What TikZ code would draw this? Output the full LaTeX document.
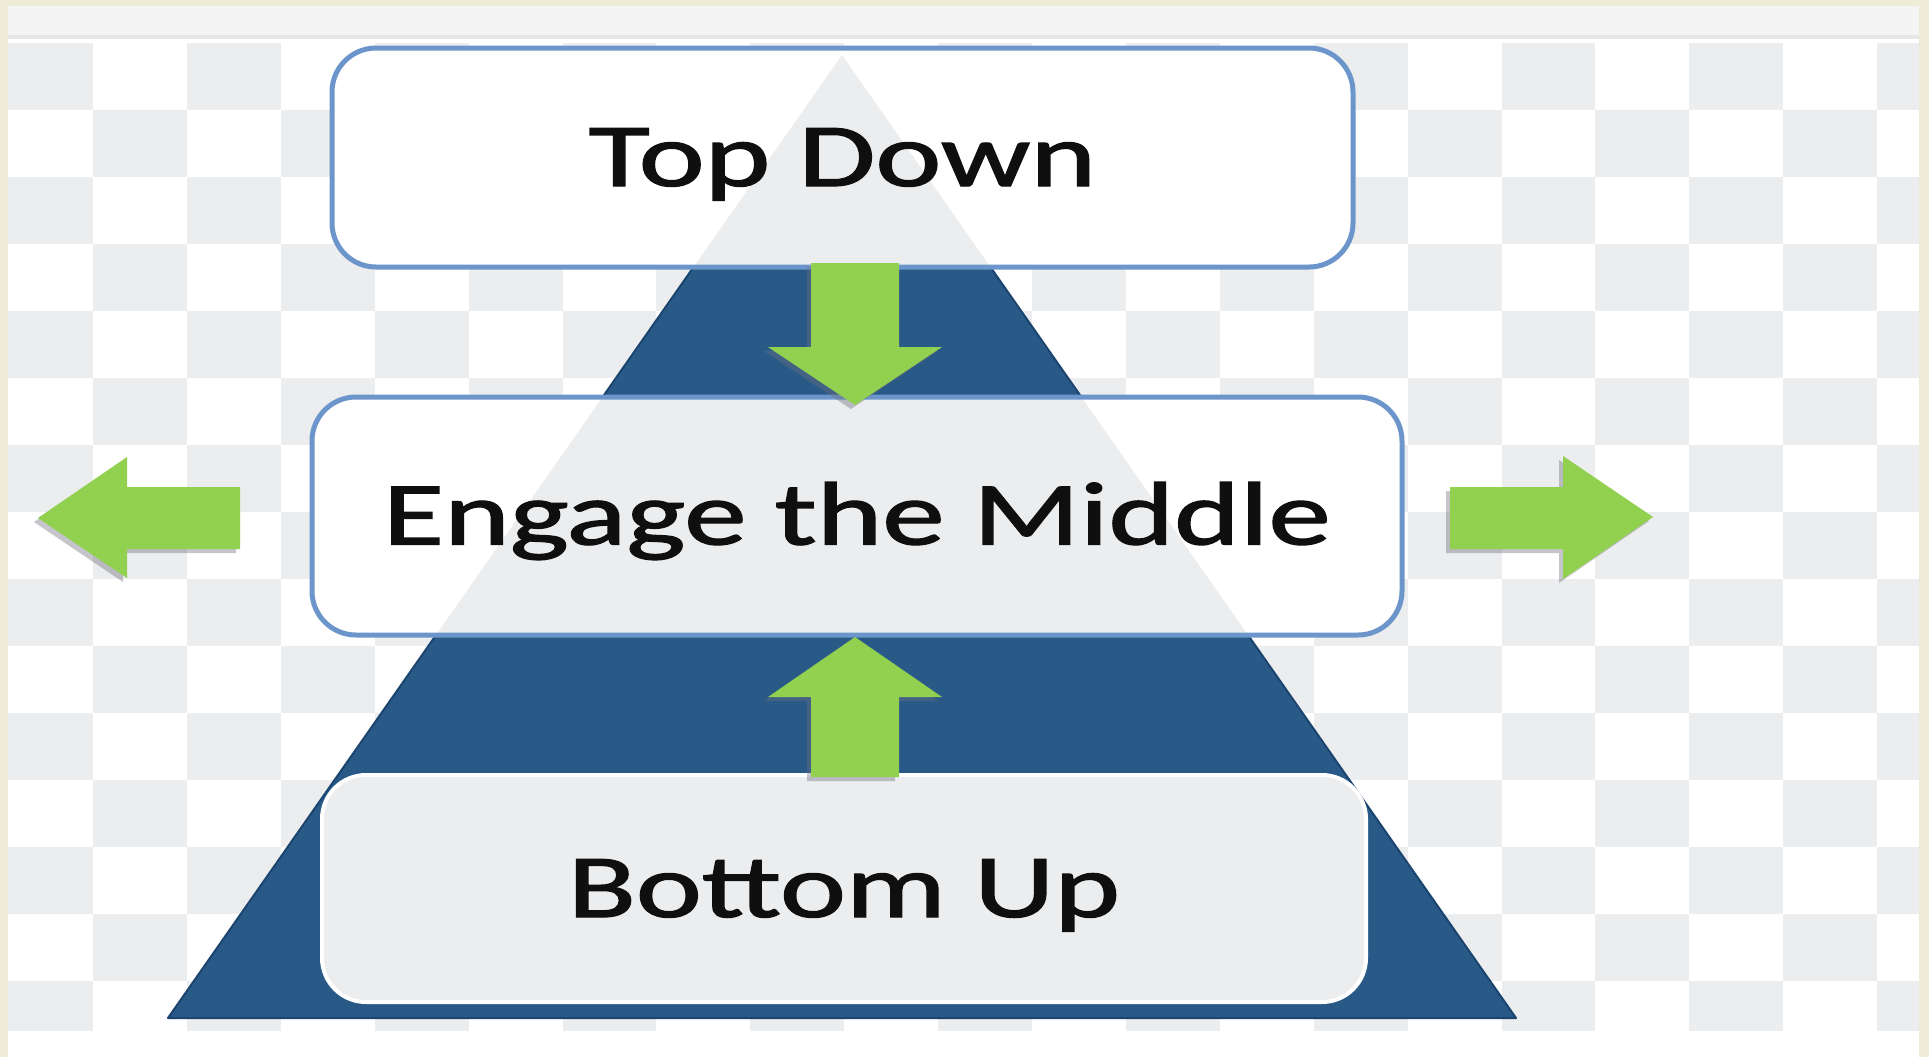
\documentclass[tikz,border=0pt]{standalone}
\usepackage{fontspec}
\setmainfont{Carlito}
\newfontfamily\labelfont{Carlito}[FakeBold=1.3]
\definecolor{cream}{RGB}{238,235,214}
\definecolor{topband}{RGB}{244,244,244}
\definecolor{bandline}{RGB}{230,230,230}
\definecolor{checkgray}{RGB}{236,237,238}
\definecolor{triblue}{RGB}{41,90,135}
\definecolor{tridark}{RGB}{28,68,112}
\definecolor{boxborder}{RGB}{108,150,203}
\definecolor{boxgray}{RGB}{236,237,239}
\definecolor{arrowgreen}{RGB}{146,208,80}
\definecolor{shadowgray}{RGB}{110,110,125}
\definecolor{textblack}{RGB}{15,15,15}
\begin{document}
\begin{tikzpicture}[x=0.5pt,y=-0.5pt,
  labelbox/.style={rounded corners=22pt, inner sep=0pt, line width=2.5pt,
    text=textblack, font=\labelfont\fontsize{45}{54}\selectfont,
    text height=28.5pt, text depth=0pt},
  greenarrow/.style={fill=arrowgreen},
  arrowshadow/.style={fill=shadowgray, opacity=0.4}]
\useasboundingbox (0,0) rectangle (1929,1057);
% background
\fill[white] (0,0) rectangle (1929,1057);
\fill[cream] (0,0) rectangle (1929,6);
\fill[cream] (0,0) rectangle (8,1057);
\fill[cream] (1919,0) rectangle (1929,1057);
\fill[topband] (8,6) rectangle (1919,35);
\fill[bandline] (8,35) rectangle (1919,39);
% checkerboard
\begin{scope}
\clip (8,43) rectangle (1919,1030);
\foreach \c in {0,...,20}{
  \foreach \r in {0,...,14}{
    \pgfmathtruncatemacro{\pp}{mod(\c+\r,2)}
    \ifnum\pp=0
      \fill[checkgray] ({93+93.9*(\c-1)},{43+67*\r}) rectangle ++(93.9,67);
    \fi
  }
}
\end{scope}
% pyramid
\coordinate (apex) at (842,55);
\coordinate (baseR) at (1516,1018);
\coordinate (baseL) at (168,1018);
\fill[triblue, draw=tridark, line width=1pt, line join=round] (apex) -- (baseR) -- (baseL) -- cycle;
% top box background
\fill[white, rounded corners=22pt] (332,48) rectangle (1353,267);
\begin{scope}
\clip[rounded corners=22pt] (332,48) rectangle (1353,267);
\fill[boxgray] (apex) -- (baseR) -- (baseL) -- cycle;
\end{scope}
% middle box background
\fill[white, rounded corners=22pt] (312,397) rectangle (1402,635);
\begin{scope}
\clip[rounded corners=22pt] (312,397) rectangle (1402,635);
\fill[boxgray] (apex) -- (baseR) -- (baseL) -- cycle;
\end{scope}
% boxes
\node[labelbox, draw=boxborder, minimum width=510.5pt, minimum height=109.5pt]
  (top) at (842.5,157.5) {\scalebox{1.39}[1]{Top Down}};
\node[labelbox, draw=boxborder, minimum width=545pt, minimum height=119pt]
  (mid) at (857,516) {\scalebox{1.39}[1]{Engage the Middle}};
\node[labelbox, draw=white, line width=2pt, fill=boxgray, minimum width=522pt, minimum height=113.5pt]
  (bot) at (844,888.5) {\scalebox{1.39}[1]{Bottom Up}};
% arrows: shadows
\begin{scope}[shift={(-4,4)}]
\fill[arrowshadow] (811,263) -- (899,263) -- (899,347) -- (942,347) -- (855,405) -- (768,347) -- (811,347) -- cycle;
\fill[arrowshadow] (811,777) -- (899,777) -- (899,697) -- (942,697) -- (855,637) -- (768,697) -- (811,697) -- cycle;
\fill[arrowshadow] (240,487) -- (127,487) -- (127,457) -- (38,518) -- (127,578) -- (127,549) -- (240,549) -- cycle;
\fill[arrowshadow] (1450,487) -- (1563,487) -- (1563,456) -- (1653,517) -- (1563,579) -- (1563,549) -- (1450,549) -- cycle;
\end{scope}
% arrows
\fill[greenarrow] (811,263) -- (899,263) -- (899,347) -- (942,347) -- (855,405) -- (768,347) -- (811,347) -- cycle;
\fill[greenarrow] (811,777) -- (899,777) -- (899,697) -- (942,697) -- (855,637) -- (768,697) -- (811,697) -- cycle;
\fill[greenarrow] (240,487) -- (127,487) -- (127,457) -- (38,518) -- (127,578) -- (127,549) -- (240,549) -- cycle;
\fill[greenarrow] (1450,487) -- (1563,487) -- (1563,456) -- (1653,517) -- (1563,579) -- (1563,549) -- (1450,549) -- cycle;
\end{tikzpicture}
\end{document}
